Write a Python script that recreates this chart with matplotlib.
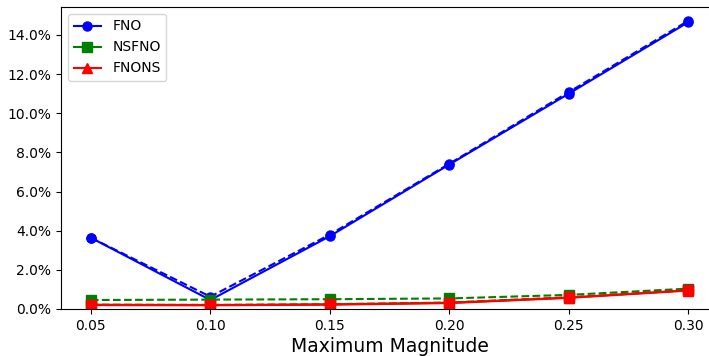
import matplotlib
matplotlib.use("Agg")
import matplotlib.pyplot as plt
from matplotlib.ticker import PercentFormatter

magnitudes = [0.05, 0.10, 0.15, 0.20, 0.25, 0.30]
xtick_labels = ["0.05", "0.10", "0.15", "0.20", "0.25", "0.30"]

# percent errors, solid (legend) series
fno_solid = [3.64, 0.46, 3.72, 7.38, 11.00, 14.65]
nsfno_solid = [0.22, 0.20, 0.24, 0.32, 0.58, 0.96]
fnons_solid = [0.20, 0.19, 0.22, 0.30, 0.57, 0.94]
# dashed series
fno_dashed = [3.64, 0.63, 3.80, 7.42, 11.08, 14.72]
nsfno_dashed = [0.46, 0.48, 0.50, 0.54, 0.72, 1.04]
fnons_dashed = [0.22, 0.21, 0.24, 0.33, 0.60, 0.96]

fig = plt.figure(figsize=(7.09, 3.56), dpi=100)
ax = fig.add_axes([61/709, 1-309/356, (718-61)/709, (309-7)/356])

lw, ms = 1.5, 6.5
ax.plot(magnitudes, fno_solid, '-', color='blue', marker='o', ms=ms, lw=lw, label='FNO')
ax.plot(magnitudes, nsfno_solid, '-', color='green', marker='s', ms=ms, lw=lw, label='NSFNO')
ax.plot(magnitudes, fno_dashed, '--', color='blue', marker='o', ms=ms, lw=lw)
ax.plot(magnitudes, nsfno_dashed, '--', color='green', marker='s', ms=ms, lw=lw)
ax.plot(magnitudes, fnons_dashed, '--', color='red', marker='s', ms=ms, lw=lw)
ax.plot(magnitudes, fnons_solid, '-', color='red', marker='^', ms=ms, lw=lw, label='FNONS')

ax.set_xticks(magnitudes)
ax.set_xticklabels(xtick_labels)
ax.set_xlim(0.0375, 0.3125)
ax.set_ylim(0, 15.43)
ax.set_yticks([0, 2, 4, 6, 8, 10, 12, 14])
ax.yaxis.set_major_formatter(PercentFormatter(xmax=100, decimals=1))
ax.set_xlabel("Maximum Magnitude", fontsize=13.5, labelpad=3)

h, l = ax.get_legend_handles_labels()
order = [l.index('FNO'), l.index('NSFNO'), l.index('FNONS')]
ax.legend([h[i] for i in order], [l[i] for i in order], loc='upper left')

fig.savefig("out.png", dpi=100)
